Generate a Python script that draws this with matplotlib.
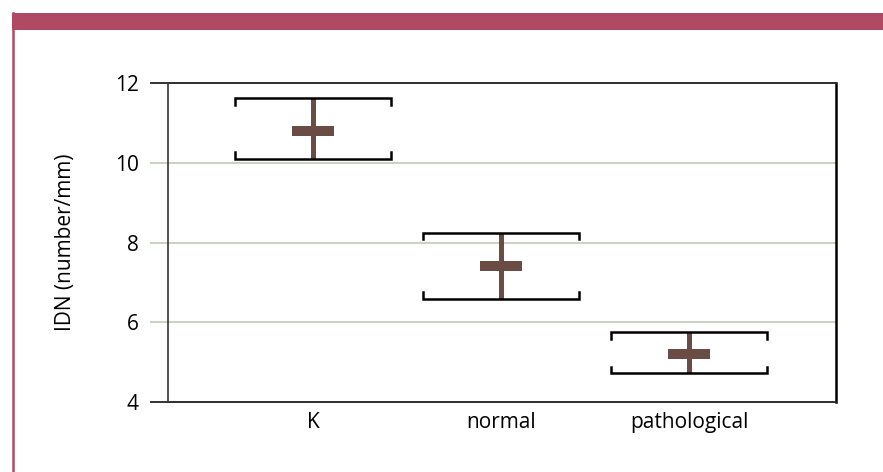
import matplotlib.pyplot as plt
from matplotlib.transforms import blended_transform_factory

plt.rcParams['font.family'] = ['Open Sans', 'DejaVu Sans']

categories = ['K', 'normal', 'pathological']
means = [10.8, 7.4, 5.2]
upper = [11.62, 8.25, 5.75]
lower = [10.1, 6.58, 4.72]
yticks = [4, 6, 8, 10, 12]

brown = '#6b4c44'
frame = '#b04a64'

fig = plt.figure(figsize=(8.83, 4.72), dpi=100)

# magenta frame: top band and left rule
fig.add_artist(plt.Rectangle((12 / 883, 1 - 30 / 472), 1, 17 / 472,
                             transform=fig.transFigure, color=frame, lw=0))
fig.add_artist(plt.Line2D([13 / 883, 13 / 883], [0, 1 - 13 / 472],
                          transform=fig.transFigure, color=frame, lw=1.8))

ax = fig.add_axes([168 / 883, 70 / 472, 668 / 883, 319 / 472])
xs = list(range(len(categories)))
ax.set_xlim(-0.771, 2.78)
ax.set_ylim(4, 12)

# gridlines that reach out past the axis like tick marks
tr = blended_transform_factory(ax.transAxes, ax.transData)
for v in yticks:
    c = '#333333' if v in (4, 12) else '#c9d1c3'
    ax.plot([-17 / 668, 1], [v, v], transform=tr, color=c, lw=1.4,
            clip_on=False, zorder=1)

hw = 0.415   # bracket half width
cw = 0.112   # cross half width
cap = 0.17
for x, m, hi, lo in zip(xs, means, upper, lower):
    ax.plot([x, x], [lo, hi], color=brown, lw=3.6, solid_capstyle='butt', zorder=2)
    ax.plot([x - cw, x + cw], [m, m], color=brown, lw=7.2,
            solid_capstyle='butt', zorder=2)
    ax.plot([x - hw, x - hw, x + hw, x + hw], [hi - cap, hi, hi, hi - cap],
            color='black', lw=1.8, solid_joinstyle='miter', zorder=3)
    ax.plot([x - hw, x - hw, x + hw, x + hw], [lo + cap, lo, lo, lo + cap],
            color='black', lw=1.8, solid_joinstyle='miter', zorder=3)

for s in ['left', 'bottom', 'top']:
    ax.spines[s].set_color('#333333')
    ax.spines[s].set_linewidth(1.2)
ax.spines['right'].set_color('black')
ax.spines['right'].set_linewidth(1.8)

ax.set_yticks(yticks)
ax.set_xticks(xs)
ax.set_xticklabels(categories)
ax.tick_params(axis='y', length=0, pad=21, labelsize=15)
ax.tick_params(axis='x', length=0, pad=7, labelsize=15)
ax.set_ylabel('IDN (number/mm)', fontsize=15, labelpad=28)

fig.savefig('out.png', dpi=100)
